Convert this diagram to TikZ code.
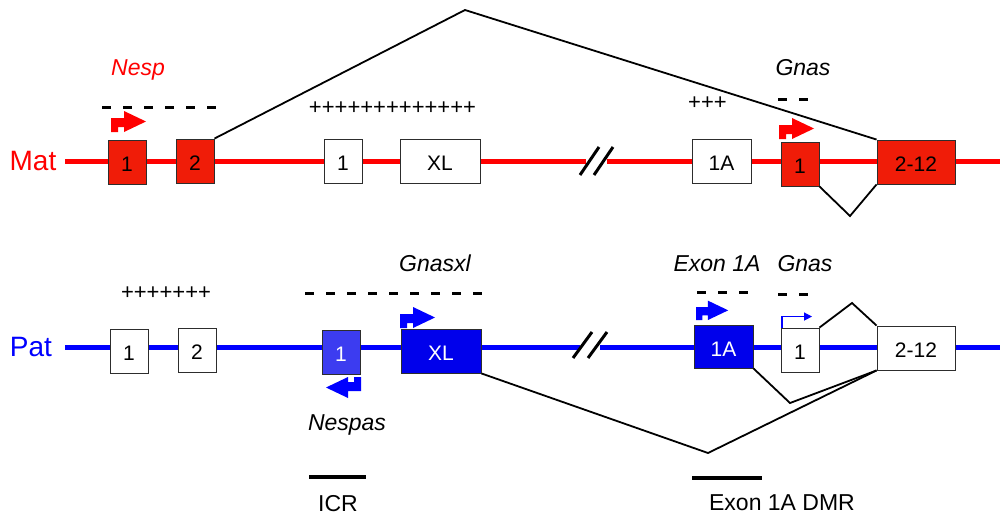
\documentclass[tikz,border=0pt]{standalone}
\usepackage{fontspec}
\setmainfont{Liberation Sans}
\usetikzlibrary{arrows.meta}
\definecolor{matred}{RGB}{255,0,0}
\definecolor{exred}{RGB}{240,28,8}
\definecolor{patblue}{RGB}{0,0,255}
\definecolor{exblue}{RGB}{0,0,235}
\definecolor{exblueL}{RGB}{60,60,240}
\definecolor{boxline}{RGB}{45,45,45}
\begin{document}
\begin{tikzpicture}[x=1pt,y=-1pt,
  exon/.style={draw=boxline, line width=0.9pt, minimum width=38pt, minimum height=44pt,
    inner sep=0pt, text height=19pt, text depth=0pt, font=\fontsize{21}{21}\selectfont},
  wide/.style={minimum width=#1pt},
  chrom/.style={line width=5pt},
  splice/.style={black, line width=1.8pt, line join=miter},
  dashrow/.style={black, line width=3pt, dash pattern=on 9pt off 12pt},
  brk/.style={black, line width=3pt},
  lab/.style={anchor=base, inner sep=0pt, font=\fontsize{23}{23}\selectfont\itshape},
  plain/.style={anchor=base, inner sep=0pt, font=\fontsize{23}{23}\selectfont},
  plus/.style={anchor=base, inner sep=0pt, font=\fontsize{22}{22}\selectfont},
  big/.style={anchor=base, inner sep=0pt, font=\fontsize{28}{28}\selectfont},
  promoter/.pic={\fill[#1] (0,0) -- (7,0) -- (7,-5) -- (13,-5) -- (13,0) -- (35,-10.5)
     -- (13,-21) -- (13,-14) -- (0,-14) -- cycle;}
]
\useasboundingbox (0,0) rectangle (1000,514);
\fill[white] (0,0) rectangle (1000,514);

% ---------- chromosome lines ----------
\coordinate (mA) at (65,161);
\coordinate (mB) at (586,161);
\coordinate (mC) at (607,161);
\coordinate (mD) at (1000,161);
\draw[chrom, matred] (mA) -- (mB);
\draw[chrom, matred] (mC) -- (mD);
\coordinate (pA) at (65,347);
\coordinate (pB) at (580,347);
\coordinate (pC) at (600,347);
\coordinate (pD) at (1000,347);
\draw[chrom, patblue] (pA) -- (pB);
\draw[chrom, patblue] (pC) -- (pD);

% break marks
\coordinate (mb1a) at (580,175); \coordinate (mb1b) at (599,147);
\coordinate (mb2a) at (594,175); \coordinate (mb2b) at (613,147);
\draw[brk] (mb1a) -- (mb1b);
\draw[brk] (mb2a) -- (mb2b);
\coordinate (pb1a) at (573,358); \coordinate (pb1b) at (592,332);
\coordinate (pb2a) at (588,358); \coordinate (pb2b) at (607,332);
\draw[brk] (pb1a) -- (pb1b);
\draw[brk] (pb2a) -- (pb2b);

% ---------- Mat exons ----------
\node[exon, fill=exred] (m1) at (127,162) {1};
\node[exon, fill=exred] (m2) at (195,161) {2};
\node[exon, fill=white] (mw1) at (343,161) {1};
\node[exon, fill=white, wide=80] (mxl) at (440,161) {XL};
\node[exon, fill=white, wide=59] (m1a) at (721.5,161) {1A};
\node[exon, fill=exred] (mg1) at (800,164) {1};
\node[exon, fill=exred, wide=78] (m212) at (916,162) {2-12};

% ---------- Pat exons ----------
\node[exon, fill=white] (p1) at (129,351) {1};
\node[exon, fill=white] (p2) at (197,350) {2};
\node[exon, fill=exblueL, text=white] (pn1) at (341,352) {1};
\node[exon, fill=exblue, text=white, wide=80] (pxl) at (441,351) {XL};
\node[exon, fill=exblue, text=white, wide=59, minimum height=43pt] (p1a) at (723.5,346.5) {1A};
\node[exon, fill=white] (pg1) at (800,350) {1};
\node[exon, fill=white, wide=78] (p212) at (916,348) {2-12};

% ---------- splicing ----------
\coordinate (apex) at (465,10);
\draw[splice] (m2.north east) -- (apex) -- (m212.north west);
\coordinate (mv) at (850,216);
\draw[splice] (mg1.south east) -- (mv) -- (m212.south west);
\coordinate (pv1) at (852,303);
\draw[splice] (pg1.north east) -- (pv1) -- (p212.north west);
\coordinate (pv2) at (790,403);
\draw[splice] (p1a.south east) -- (pv2) -- (p212.south west);
\coordinate (pv3) at (708,453);
\draw[splice] (pxl.south east) -- (pv3) -- (p212.south west);

% ---------- promoters ----------
\pic at (111,132) {promoter=matred};
\pic at (779,139) {promoter=matred};
\pic at (400,328) {promoter=patblue};
\pic[rotate=180] at (361,377) {promoter=patblue};
\pic[scale=0.92] at (696,320) {promoter=patblue};
\draw[patblue, line width=1.3pt, -{Triangle[length=8pt,width=8pt]}]
  ([xshift=1.5pt]pg1.north west) -- ++(0,-11) -- ++(30,0);

% ---------- methylation marks ----------
\coordinate (d1a) at (102,107); \coordinate (d1b) at (218,107);
\draw[dashrow] (d1a) -- (d1b);
\coordinate (d2a) at (778,99); \coordinate (d2b) at (809,99);
\draw[dashrow] (d2a) -- (d2b);
\coordinate (d3a) at (305,293); \coordinate (d3b) at (483,293);
\draw[dashrow] (d3a) -- (d3b);
\coordinate (d4a) at (697,292); \coordinate (d4b) at (749,292);
\draw[dashrow] (d4a) -- (d4b);
\coordinate (d5a) at (778,294); \coordinate (d5b) at (809,294);
\draw[dashrow] (d5a) -- (d5b);

\node[plus] (pl1) at (392.5,114.5) {+++++++++++++};
\node[plus] (pl2) at (707.5,109.5) {+++};
\node[plus] (pl3) at (166,299.5) {+++++++};

% ---------- labels ----------
\node[big, text=matred] (mat) at (33,170) {Mat};
\node[big, text=patblue] (pat) at (31,356) {Pat};
\node[lab, text=matred] (nesp) at (138,75) {Nesp};
\node[lab] (gnas1) at (803,75) {Gnas};
\node[lab] (gnasxl) at (435,271.5) {Gnasxl};
\node[lab] (ex1a) at (717,271.5) {Exon 1A};
\node[lab] (gnas2) at (805,271.5) {Gnas};
\node[lab] (nespas) at (347,430.5) {Nespas};

\coordinate (icrA) at (309,477); \coordinate (icrB) at (366,477);
\draw[black, line width=3.5pt] (icrA) -- (icrB);
\node[plain] (icr) at (338,511) {ICR};
\coordinate (dmrA) at (692,478); \coordinate (dmrB) at (762,478);
\draw[black, line width=3.5pt] (dmrA) -- (dmrB);
\node[plain] (dmr) at (782,510) {Exon 1A DMR};
\end{tikzpicture}
\end{document}
